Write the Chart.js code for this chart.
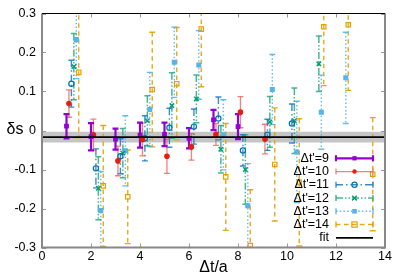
<!DOCTYPE html>
<html>
<head>
<meta charset="utf-8">
<script src="https://cdn.jsdelivr.net/npm/chart.js@4/dist/chart.umd.min.js"></script>
<style>
html,body{margin:0;padding:0;background:#fff;}
canvas{display:block;}
</style>
</head>
<body>
<canvas id="c" width="399" height="279"></canvas>
<script>
// ---- data ----
const deltaT = [1, 2, 3, 4, 5, 6, 7, 8, 9, 10, 11, 12, 13];
const seriesLabels = ["Δt'=9", "Δt'=10", "Δt'=11", "Δt'=12", "Δt'=13", "Δt'=14"];
const xTicks = [0, 2, 4, 6, 8, 10, 12, 14];
const yTicks = [-0.3, -0.2, -0.1, 0, 0.1, 0.2, 0.3];

const s9  = [0.011, -0.016, -0.022, -0.012, -0.010, -0.020, 0.027, 0.010];
const e9  = [0.031, 0.035, 0.027, 0.032, 0.030, 0.026, 0.026, 0.032];
const s10 = [0.069, -0.011, -0.078, -0.023, -0.066, -0.042, -0.010, 0.047, -0.022];
const e10 = [0.035, 0.040, 0.038, 0.042, 0.044, 0.034, 0.028, 0.040, 0.038];
const s11 = [0.120, -0.097, -0.066, -0.020, 0.007, 0.010, 0.031, -0.051, -0.011, 0.018];
const e11 = [0.060, 0.050, 0.045, 0.058, 0.050, 0.045, 0.055, 0.040, 0.040, 0.050];
const s12 = [0.164, -0.148, -0.058, 0.025, 0.064, 0.081, -0.048, -0.100, 0.022, 0.025, 0.171];
const e12 = [0.085, 0.081, 0.063, 0.064, 0.084, 0.061, 0.061, 0.089, 0.065, 0.084, 0.071];
const s13 = [0.233, -0.205, -0.052, 0.054, 0.175, 0.168, -0.011, -0.193, 0.105, -0.055, 0.047, 0.135];
const e13 = [0.100, 0.100, 0.090, 0.095, 0.090, 0.088, 0.090, 0.108, 0.090, 0.130, 0.095, 0.117];
const s14 = [0.149, -0.142, -0.170, 0.105, 0.120, 0.260, -0.119, -0.295, -0.087, -0.133, 0.266, 0.271, -0.112];
const e14 = [0.167, 0.155, 0.120, 0.147, 0.144, 0.148, 0.137, 0.143, 0.145, 0.163, 0.151, 0.168, 0.145];

const fitValue = -0.017;
const fitError = 0.014;

// ---- styles ----
const styles = [
  {val: s9,  err: e9,  off: 0.0, color: '#9400d3', bar: '#9400d3', lw: 2.2, dash: [], ps: 'rect', r: 2.5, fill: true},
  {val: s10, err: e10, off: 0.1, color: '#e51e10', bar: 'rgba(236,90,80,0.75)', lw: 1.3, dash: [], ps: 'circle', r: 2.2, fill: true},
  {val: s11, err: e11, off: 0.2, color: '#0072b2', bar: 'rgba(20,120,200,0.85)', lw: 1.4, dash: [7, 3, 1.5, 3], ps: 'circle', r: 2.6, fill: false},
  {val: s12, err: e12, off: 0.3, color: '#009e73', bar: 'rgba(40,170,125,0.85)', lw: 1.5, dash: [7, 2, 1.5, 2, 1.5, 2], ps: 'crossRot', r: 3.1, fill: false},
  {val: s13, err: e13, off: 0.4, color: '#56b4e9', bar: 'rgba(86,180,233,0.9)', lw: 1.4, dash: [1.5, 2.2], ps: 'rect', r: 2.7, fill: true},
  {val: s14, err: e14, off: 0.5, color: '#e69f00', bar: 'rgba(230,159,0,0.9)', lw: 1.4, dash: [4.5, 3.5], ps: 'rect', r: 3.1, fill: false}
];

const datasets = styles.map((st, k) => ({
  type: 'scatter',
  label: seriesLabels[k],
  data: st.val.map((v, i) => ({x: deltaT[i] + st.off, y: v})),
  errors: st.err,
  order: 1,
  showLine: false,
  pointStyle: st.ps,
  pointRadius: st.r,
  pointHoverRadius: st.r,
  pointBorderWidth: st.ps === 'crossRot' ? 1.5 : 1.2,
  pointBorderColor: st.color,
  pointBackgroundColor: st.fill ? st.color : 'rgba(255,255,255,0)',
  errStyle: st
}));

// fit line (drawn last, on top)
datasets.push({
  type: 'line', label: 'fit', order: 0,
  data: [{x: xTicks[0], y: fitValue}, {x: xTicks[xTicks.length - 1], y: fitValue}],
  borderColor: '#000', borderWidth: 1.8, pointRadius: 0, fill: false
});
// band lower and upper
datasets.push({
  type: 'line', label: 'bandLow', order: 3,
  data: [{x: xTicks[0], y: fitValue - fitError}, {x: xTicks[xTicks.length - 1], y: fitValue - fitError}],
  borderColor: 'rgba(0,0,0,0)', borderWidth: 0, pointRadius: 0, fill: false
});
datasets.push({
  type: 'line', label: 'bandHigh', order: 2,
  data: [{x: xTicks[0], y: fitValue + fitError}, {x: xTicks[xTicks.length - 1], y: fitValue + fitError}],
  borderColor: 'rgba(0,0,0,0)', borderWidth: 0, pointRadius: 0, fill: '-1',
  backgroundColor: 'rgba(150,150,150,0.55)'
});

const BAND_INDEX = datasets.length - 1;
const CAP = 3;

function drawMarker(ctx, st, x, y) {
  ctx.save();
  ctx.setLineDash([]);
  ctx.lineWidth = st.ps === 'crossRot' ? 1.5 : 1.2;
  ctx.strokeStyle = st.color;
  ctx.fillStyle = st.color;
  const r = st.r;
  if (st.ps === 'rect') {
    const h = r * 0.85;
    if (st.fill) ctx.fillRect(x - h, y - h, 2 * h, 2 * h);
    else ctx.strokeRect(x - h, y - h, 2 * h, 2 * h);
  } else if (st.ps === 'circle') {
    ctx.beginPath(); ctx.arc(x, y, r, 0, Math.PI * 2);
    if (st.fill) ctx.fill(); else ctx.stroke();
  } else {
    const h = r * 0.75;
    ctx.beginPath();
    ctx.moveTo(x - h, y - h); ctx.lineTo(x + h, y + h);
    ctx.moveTo(x - h, y + h); ctx.lineTo(x + h, y - h);
    ctx.stroke();
  }
  ctx.restore();
}

const customPlugin = {
  id: 'custom',
  afterDatasetDraw(chart, args) {
    if (args.index !== BAND_INDEX) return;
    const ctx = chart.ctx, xs = chart.scales.x, ys = chart.scales.y, a = chart.chartArea;
    ctx.save();
    ctx.beginPath(); ctx.rect(a.left, a.top, a.right - a.left, a.bottom - a.top); ctx.clip();
    for (let k = styles.length - 1; k >= 0; k--) {
      const ds = chart.data.datasets[k];
      const st = ds.errStyle;
      ctx.strokeStyle = st.bar;
      ctx.lineWidth = st.lw;
      ds.data.forEach((p, i) => {
        const px = xs.getPixelForValue(p.x);
        const y1 = ys.getPixelForValue(p.y + ds.errors[i]);
        const y2 = ys.getPixelForValue(p.y - ds.errors[i]);
        ctx.setLineDash(st.dash);
        ctx.beginPath(); ctx.moveTo(px, y1); ctx.lineTo(px, y2); ctx.stroke();
        ctx.setLineDash([]);
        ctx.beginPath();
        ctx.moveTo(px - CAP, y1); ctx.lineTo(px + CAP, y1);
        ctx.moveTo(px - CAP, y2); ctx.lineTo(px + CAP, y2);
        ctx.stroke();
      });
    }
    ctx.restore();
  },
  afterDraw(chart) {
    const ctx = chart.ctx, xs = chart.scales.x, ys = chart.scales.y, a = chart.chartArea;
    ctx.save();
    // inward ticks
    ctx.strokeStyle = '#999';
    ctx.lineWidth = 1;
    xTicks.forEach(v => {
      const px = Math.round(xs.getPixelForValue(v)) + 0.5;
      ctx.beginPath();
      ctx.moveTo(px, a.bottom); ctx.lineTo(px, a.bottom - 4);
      ctx.moveTo(px, a.top); ctx.lineTo(px, a.top + 4);
      ctx.stroke();
    });
    yTicks.forEach(v => {
      const py = Math.round(ys.getPixelForValue(v)) + 0.5;
      ctx.beginPath();
      ctx.moveTo(a.left, py); ctx.lineTo(a.left + 4, py);
      ctx.moveTo(a.right, py); ctx.lineTo(a.right - 4, py);
      ctx.stroke();
    });
    // frame
    ctx.strokeStyle = '#888';
    ctx.lineWidth = 2;
    ctx.beginPath();
    ctx.moveTo(a.left, a.top); ctx.lineTo(a.left, a.bottom); ctx.lineTo(a.right, a.bottom); ctx.lineTo(a.right, a.top);
    ctx.stroke();
    ctx.strokeStyle = '#000';
    ctx.lineWidth = 1;
    ctx.beginPath();
    ctx.moveTo(a.left, a.top); ctx.lineTo(a.right, a.top);
    ctx.stroke();

    // axis titles
    ctx.fillStyle = '#000';
    ctx.font = '16px "Liberation Sans", Arial, sans-serif';
    ctx.textAlign = 'center';
    ctx.textBaseline = 'middle';
    ctx.fillText('δs', 15, (a.top + a.bottom) / 2 - 1);
    ctx.fillText('Δt/a', (a.left + a.right) / 2, 268);

    // legend
    ctx.font = '12.5px "Liberation Sans", Arial, sans-serif';
    ctx.textAlign = 'right';
    const tx = 329, l1 = 336, l2 = 373, y0 = 158.3, dy = 13.25;
    styles.forEach((st, k) => {
      const y = y0 + dy * k;
      ctx.fillStyle = '#000';
      ctx.fillText(seriesLabels[k], tx, y);
      ctx.strokeStyle = st.bar;
      ctx.lineWidth = st.lw;
      ctx.setLineDash(st.dash);
      ctx.beginPath(); ctx.moveTo(l1, y); ctx.lineTo(l2, y); ctx.stroke();
      ctx.setLineDash([]);
      ctx.beginPath();
      ctx.moveTo(l1, y - CAP); ctx.lineTo(l1, y + CAP);
      ctx.moveTo(l2, y - CAP); ctx.lineTo(l2, y + CAP);
      ctx.stroke();
      drawMarker(ctx, st, (l1 + l2) / 2, y);
    });
    const yf = y0 + dy * 6;
    ctx.fillStyle = '#000';
    ctx.fillText('fit', tx, yf);
    ctx.strokeStyle = '#000';
    ctx.lineWidth = 1.8;
    ctx.beginPath(); ctx.moveTo(l1, yf); ctx.lineTo(l2, yf); ctx.stroke();
    ctx.restore();
  }
};

new Chart(document.getElementById('c'), {
  type: 'scatter',
  data: {datasets},
  options: {
    responsive: false,
    animation: false,
    devicePixelRatio: 1,
    layout: {padding: {top: 9.5, right: 14, left: 0, bottom: 0}},
    plugins: {legend: {display: false}, tooltip: {enabled: false}},
    scales: {
      x: {
        type: 'linear', min: 0, max: 14,
        afterBuildTicks: s => { s.ticks = xTicks.map(v => ({value: v})); },
        afterFit: s => { s.height = 31.5; },
        grid: {display: false, drawTicks: false}, border: {display: false},
        ticks: {color: '#000', padding: 2, font: {family: '"Liberation Sans", Arial, sans-serif', size: 12.5}, maxRotation: 0}
      },
      y: {
        type: 'linear', min: -0.3, max: 0.3,
        afterBuildTicks: s => { s.ticks = yTicks.map(v => ({value: v})); },
        afterFit: s => { s.width = 42; },
        grid: {display: false, drawTicks: false}, border: {display: false},
        ticks: {color: '#000', padding: 6, font: {family: '"Liberation Sans", Arial, sans-serif', size: 12.5},
          callback: v => Math.abs(v) < 1e-9 ? '0' : v.toFixed(1)}
      }
    }
  },
  plugins: [customPlugin]
});
</script>
</body>
</html>
